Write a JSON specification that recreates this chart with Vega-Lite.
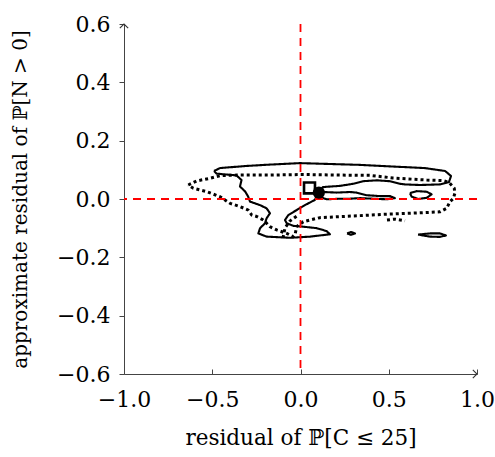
{
  "$schema": "https://vega.github.io/schema/vega-lite/v6.json",
  "width": 353,
  "height": 350,
  "autosize": "none",
  "padding": {"left": 124, "top": 24, "right": 18, "bottom": 83},
  "config": {
    "view": {"stroke": null},
    "font": "DejaVu Serif",
    "axis": {
      "grid": false,
      "domainColor": "#444",
      "domainWidth": 1,
      "tickColor": "#444",
      "tickWidth": 1,
      "labelColor": "black",
      "titleColor": "black",
      "labelFont": "DejaVu Serif",
      "titleFont": "DejaVu Serif",
      "labelFontSize": 22,
      "titleFontSize": 20,
      "titleFontWeight": "normal",
      "labelFlush": false,
      "labelOverlap": false
    }
  },
  "datasets": {
    "contours": [
      {"id":"s1","series":"a","ord":1,"x":-0.490,"y":0.096},
      {"id":"s1","series":"a","ord":2,"x":-0.456,"y":0.106},
      {"id":"s1","series":"a","ord":3,"x":-0.314,"y":0.113},
      {"id":"s1","series":"a","ord":4,"x":-0.173,"y":0.118},
      {"id":"s1","series":"a","ord":5,"x":-0.003,"y":0.123},
      {"id":"s1","series":"a","ord":6,"x":0.167,"y":0.120},
      {"id":"s1","series":"a","ord":7,"x":0.337,"y":0.117},
      {"id":"s1","series":"a","ord":8,"x":0.535,"y":0.111},
      {"id":"s1","series":"a","ord":9,"x":0.705,"y":0.106},
      {"id":"s1","series":"a","ord":10,"x":0.819,"y":0.096},
      {"id":"s1","series":"a","ord":11,"x":0.853,"y":0.079},
      {"id":"s1","series":"a","ord":12,"x":0.841,"y":0.058},
      {"id":"s1","series":"a","ord":13,"x":0.790,"y":0.050},
      {"id":"s1","series":"a","ord":14,"x":0.677,"y":0.048},
      {"id":"s1","series":"a","ord":15,"x":0.592,"y":0.050},
      {"id":"s1","series":"a","ord":16,"x":0.564,"y":0.052},
      {"id":"s1","series":"a","ord":17,"x":0.507,"y":0.061},
      {"id":"s1","series":"a","ord":18,"x":0.432,"y":0.064},
      {"id":"s1","series":"a","ord":19,"x":0.354,"y":0.061},
      {"id":"s1","series":"a","ord":20,"x":0.297,"y":0.052},
      {"id":"s1","series":"a","ord":21,"x":0.224,"y":0.045},
      {"id":"s1","series":"a","ord":22,"x":0.127,"y":0.041},
      {"id":"s1","series":"a","ord":23,"x":0.099,"y":0.024},
      {"id":"s1","series":"a","ord":24,"x":0.082,"y":-0.003},
      {"id":"s1","series":"a","ord":25,"x":0.025,"y":-0.021},
      {"id":"s1","series":"a","ord":26,"x":-0.022,"y":-0.038},
      {"id":"s1","series":"a","ord":27,"x":-0.069,"y":-0.055},
      {"id":"s1","series":"a","ord":28,"x":-0.088,"y":-0.072},
      {"id":"s1","series":"a","ord":29,"x":-0.078,"y":-0.083},
      {"id":"s1","series":"a","ord":30,"x":-0.041,"y":-0.092},
      {"id":"s1","series":"a","ord":31,"x":0.016,"y":-0.095},
      {"id":"s1","series":"a","ord":32,"x":0.092,"y":-0.100},
      {"id":"s1","series":"a","ord":33,"x":0.148,"y":-0.110},
      {"id":"s1","series":"a","ord":34,"x":0.167,"y":-0.121},
      {"id":"s1","series":"a","ord":35,"x":0.054,"y":-0.129},
      {"id":"s1","series":"a","ord":36,"x":-0.059,"y":-0.133},
      {"id":"s1","series":"a","ord":37,"x":-0.192,"y":-0.129},
      {"id":"s1","series":"a","ord":38,"x":-0.239,"y":-0.118},
      {"id":"s1","series":"a","ord":39,"x":-0.229,"y":-0.100},
      {"id":"s1","series":"a","ord":40,"x":-0.201,"y":-0.083},
      {"id":"s1","series":"a","ord":41,"x":-0.192,"y":-0.066},
      {"id":"s1","series":"a","ord":42,"x":-0.173,"y":-0.049},
      {"id":"s1","series":"a","ord":43,"x":-0.192,"y":-0.032},
      {"id":"s1","series":"a","ord":44,"x":-0.229,"y":-0.021},
      {"id":"s1","series":"a","ord":45,"x":-0.286,"y":-0.009},
      {"id":"s1","series":"a","ord":46,"x":-0.297,"y":0.009},
      {"id":"s1","series":"a","ord":47,"x":-0.314,"y":0.026},
      {"id":"s1","series":"a","ord":48,"x":-0.343,"y":0.043},
      {"id":"s1","series":"a","ord":49,"x":-0.334,"y":0.065},
      {"id":"s1","series":"a","ord":50,"x":-0.363,"y":0.081},
      {"id":"s1","series":"a","ord":51,"x":-0.476,"y":0.087},
      {"id":"s1","series":"a","ord":52,"x":-0.490,"y":0.096},

      {"id":"s2","series":"a","ord":1,"x":0.127,"y":0.024},
      {"id":"s2","series":"a","ord":2,"x":0.205,"y":0.022},
      {"id":"s2","series":"a","ord":3,"x":0.280,"y":0.024},
      {"id":"s2","series":"a","ord":4,"x":0.318,"y":0.022},
      {"id":"s2","series":"a","ord":5,"x":0.375,"y":0.013},
      {"id":"s2","series":"a","ord":6,"x":0.450,"y":0.010},
      {"id":"s2","series":"a","ord":7,"x":0.507,"y":0.010},
      {"id":"s2","series":"a","ord":8,"x":0.535,"y":0.003},
      {"id":"s2","series":"a","ord":9,"x":0.488,"y":-0.001},
      {"id":"s2","series":"a","ord":10,"x":0.411,"y":0.001},
      {"id":"s2","series":"a","ord":11,"x":0.337,"y":0.003},
      {"id":"s2","series":"a","ord":12,"x":0.280,"y":0.001},
      {"id":"s2","series":"a","ord":13,"x":0.224,"y":0.001},
      {"id":"s2","series":"a","ord":14,"x":0.148,"y":-0.001},
      {"id":"s2","series":"a","ord":15,"x":0.110,"y":0.007},
      {"id":"s2","series":"a","ord":16,"x":0.127,"y":0.024},

      {"id":"s3","series":"a","ord":1,"x":0.620,"y":0.020},
      {"id":"s3","series":"a","ord":2,"x":0.658,"y":0.027},
      {"id":"s3","series":"a","ord":3,"x":0.715,"y":0.025},
      {"id":"s3","series":"a","ord":4,"x":0.743,"y":0.016},
      {"id":"s3","series":"a","ord":5,"x":0.715,"y":0.004},
      {"id":"s3","series":"a","ord":6,"x":0.667,"y":0.000},
      {"id":"s3","series":"a","ord":7,"x":0.630,"y":0.008},
      {"id":"s3","series":"a","ord":8,"x":0.620,"y":0.020},

      {"id":"s4","series":"a","ord":1,"x":0.264,"y":-0.118},
      {"id":"s4","series":"a","ord":2,"x":0.286,"y":-0.113},
      {"id":"s4","series":"a","ord":3,"x":0.309,"y":-0.118},
      {"id":"s4","series":"a","ord":4,"x":0.286,"y":-0.123},
      {"id":"s4","series":"a","ord":5,"x":0.264,"y":-0.118},

      {"id":"s5","series":"a","ord":1,"x":0.666,"y":-0.122},
      {"id":"s5","series":"a","ord":2,"x":0.734,"y":-0.118},
      {"id":"s5","series":"a","ord":3,"x":0.790,"y":-0.118},
      {"id":"s5","series":"a","ord":4,"x":0.824,"y":-0.125},
      {"id":"s5","series":"a","ord":5,"x":0.790,"y":-0.130},
      {"id":"s5","series":"a","ord":6,"x":0.734,"y":-0.129},
      {"id":"s5","series":"a","ord":7,"x":0.666,"y":-0.122},

      {"id":"d1","series":"b","ord":1,"x":-0.636,"y":0.048},
      {"id":"d1","series":"b","ord":2,"x":-0.588,"y":0.062},
      {"id":"d1","series":"b","ord":3,"x":-0.513,"y":0.071},
      {"id":"d1","series":"b","ord":4,"x":-0.456,"y":0.080},
      {"id":"d1","series":"b","ord":5,"x":-0.361,"y":0.082},
      {"id":"d1","series":"b","ord":6,"x":-0.173,"y":0.082},
      {"id":"d1","series":"b","ord":7,"x":0.014,"y":0.084},
      {"id":"d1","series":"b","ord":8,"x":0.224,"y":0.082},
      {"id":"d1","series":"b","ord":9,"x":0.394,"y":0.081},
      {"id":"d1","series":"b","ord":10,"x":0.524,"y":0.072},
      {"id":"d1","series":"b","ord":11,"x":0.715,"y":0.065},
      {"id":"d1","series":"b","ord":12,"x":0.807,"y":0.063},
      {"id":"d1","series":"b","ord":13,"x":0.841,"y":0.057},
      {"id":"d1","series":"b","ord":14,"x":0.871,"y":0.037},
      {"id":"d1","series":"b","ord":15,"x":0.875,"y":0.020},
      {"id":"d1","series":"b","ord":16,"x":0.866,"y":0.002},
      {"id":"d1","series":"b","ord":17,"x":0.847,"y":-0.009},
      {"id":"d1","series":"b","ord":18,"x":0.828,"y":-0.032},
      {"id":"d1","series":"b","ord":19,"x":0.790,"y":-0.044},
      {"id":"d1","series":"b","ord":20,"x":0.620,"y":-0.049},
      {"id":"d1","series":"b","ord":21,"x":0.488,"y":-0.052},
      {"id":"d1","series":"b","ord":22,"x":0.337,"y":-0.057},
      {"id":"d1","series":"b","ord":23,"x":0.205,"y":-0.061},
      {"id":"d1","series":"b","ord":24,"x":0.110,"y":-0.064},
      {"id":"d1","series":"b","ord":25,"x":0.054,"y":-0.072},
      {"id":"d1","series":"b","ord":26,"x":0.016,"y":-0.078},
      {"id":"d1","series":"b","ord":27,"x":-0.022,"y":-0.095},
      {"id":"d1","series":"b","ord":28,"x":-0.031,"y":-0.123},
      {"id":"d1","series":"b","ord":29,"x":-0.042,"y":-0.129},
      {"id":"d1","series":"b","ord":30,"x":-0.078,"y":-0.118},
      {"id":"d1","series":"b","ord":31,"x":-0.135,"y":-0.106},
      {"id":"d1","series":"b","ord":32,"x":-0.173,"y":-0.095},
      {"id":"d1","series":"b","ord":33,"x":-0.192,"y":-0.083},
      {"id":"d1","series":"b","ord":34,"x":-0.211,"y":-0.072},
      {"id":"d1","series":"b","ord":35,"x":-0.248,"y":-0.060},
      {"id":"d1","series":"b","ord":36,"x":-0.276,"y":-0.055},
      {"id":"d1","series":"b","ord":37,"x":-0.296,"y":-0.038},
      {"id":"d1","series":"b","ord":38,"x":-0.343,"y":-0.026},
      {"id":"d1","series":"b","ord":39,"x":-0.399,"y":-0.015},
      {"id":"d1","series":"b","ord":40,"x":-0.456,"y":0.008},
      {"id":"d1","series":"b","ord":41,"x":-0.531,"y":0.025},
      {"id":"d1","series":"b","ord":42,"x":-0.607,"y":0.037},
      {"id":"d1","series":"b","ord":43,"x":-0.636,"y":0.048},

      {"id":"d2","series":"b","ord":1,"x":-0.099,"y":-0.134},
      {"id":"d2","series":"b","ord":2,"x":-0.088,"y":-0.099},
      {"id":"d2","series":"b","ord":3,"x":-0.059,"y":-0.075},
      {"id":"d2","series":"b","ord":4,"x":-0.020,"y":-0.058},

      {"id":"d3","series":"b","ord":1,"x":0.490,"y":-0.072},
      {"id":"d3","series":"b","ord":2,"x":0.535,"y":-0.069},
      {"id":"d3","series":"b","ord":3,"x":0.592,"y":-0.075}
    ],
    "refx": [{"x": 0}],
    "refy": [{"y": 0}],
    "square": [{"x": 0.051, "y": 0.038}],
    "dot": [{"x": 0.104, "y": 0.022}],
    "arrows": [{"x": 1, "y": -0.6, "dir": "right"}, {"x": -1, "y": 0.6, "dir": "up"}]
  },
  "layer": [
    {
      "data": {"name": "contours"},
      "mark": {"type": "line", "color": "black", "strokeCap": "butt", "strokeJoin": "round"},
      "encoding": {
        "x": {
          "field": "x", "type": "quantitative",
          "scale": {"domain": [-1, 1], "nice": false, "zero": false},
          "axis": {
            "values": [-1, -0.5, 0, 0.5, 1],
            "format": ".1f",
            "tickSize": -5,
            "labelPadding": 37.5,
            "labelBaseline": "alphabetic",
            "title": "residual of ℙ[C ≤ 25]",
            "titleFontSize": 21.5,
            "titleBaseline": "alphabetic",
            "titleY": 70
          }
        },
        "y": {
          "field": "y", "type": "quantitative",
          "scale": {"domain": [-0.6, 0.6], "nice": false, "zero": false},
          "axis": {
            "values": [-0.6, -0.4, -0.2, 0, 0.2, 0.4, 0.6],
            "format": ".1f",
            "tickSize": 5,
            "labelPadding": 9,
            "title": "approximate residual of ℙ[N > 0]",
            "titleBaseline": "alphabetic",
            "titleAngle": 270,
            "titleX": -98,
            "titleY": 175,
            "titleAlign": "center"
          }
        },
        "detail": {"field": "id"},
        "order": {"field": "ord", "type": "quantitative"},
        "strokeDash": {
          "field": "series", "type": "nominal",
          "scale": {"domain": ["a", "b"], "range": [[1, 0], [3, 3]]},
          "legend": null
        },
        "strokeWidth": {
          "condition": {"test": "datum.series === 'b'", "value": 3},
          "value": 2.1
        }
      }
    },
    {
      "data": {"name": "refx"},
      "mark": {"type": "rule", "color": "#ff0000", "strokeWidth": 1.8, "strokeDash": [8, 6]},
      "encoding": {"x": {"field": "x", "type": "quantitative"}}
    },
    {
      "data": {"name": "refy"},
      "mark": {"type": "rule", "color": "#ff0000", "strokeWidth": 1.8, "strokeDash": [8, 6]},
      "encoding": {"y": {"field": "y", "type": "quantitative"}}
    },
    {
      "data": {"name": "square"},
      "mark": {"type": "point", "shape": "square", "size": 120, "filled": true, "fill": "white", "stroke": "black", "strokeWidth": 2.6, "opacity": 1},
      "encoding": {
        "x": {"field": "x", "type": "quantitative"},
        "y": {"field": "y", "type": "quantitative"}
      }
    },
    {
      "data": {"name": "dot"},
      "mark": {"type": "circle", "size": 150, "color": "black", "opacity": 1},
      "encoding": {
        "x": {"field": "x", "type": "quantitative"},
        "y": {"field": "y", "type": "quantitative"}
      }
    },
    {
      "data": {"name": "arrows"},
      "mark": {"type": "point", "filled": false, "stroke": "#333", "strokeWidth": 1.1, "size": 70, "opacity": 1},
      "encoding": {
        "x": {"field": "x", "type": "quantitative"},
        "y": {"field": "y", "type": "quantitative"},
        "shape": {
          "field": "dir", "type": "nominal",
          "scale": {"domain": ["right", "up"], "range": ["M-1,-1L0,0L-1,1", "M-1,1L0,0L1,1"]},
          "legend": null
        }
      }
    }
  ]
}
